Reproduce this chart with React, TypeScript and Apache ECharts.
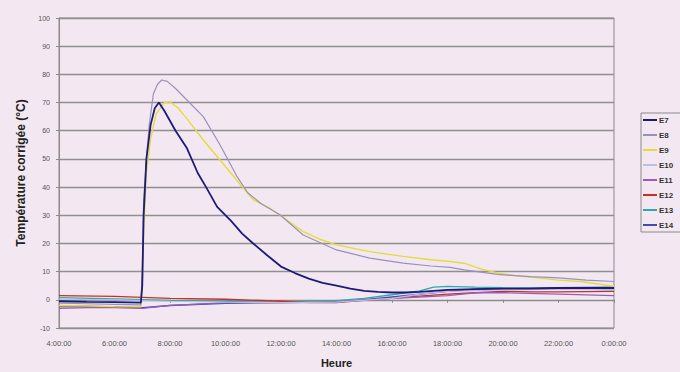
import React, { useEffect, useRef } from "react";
import * as echarts from "echarts";

const xTickLabels = ["4:00:00", "6:00:00", "8:00:00", "10:00:00", "12:00:00", "14:00:00", "16:00:00", "18:00:00", "20:00:00", "22:00:00", "0:00:00"];
const yTicks = [-10, 0, 10, 20, 30, 40, 50, 60, 70, 80, 90, 100];
const seriesNames = ["E7", "E8", "E9", "E10", "E11", "E12", "E13", "E14"];
const seriesColors = ["#1c1c78", "#9a90bc", "#e4dc3c", "#b8c0e8", "#9a5cb8", "#c83020", "#30a8a8", "#4848b0"];

// [hour, °C]
const e7 = [[4, -0.5], [5, -0.7], [6, -0.8], [6.95, -1], [7.0, 5], [7.05, 30], [7.15, 50], [7.3, 62], [7.45, 68], [7.6, 70], [7.8, 67], [8.2, 60], [8.6, 54], [9.0, 45], [9.3, 40], [9.7, 33], [10.2, 28], [10.6, 23.5], [11.0, 20], [11.5, 15.8], [12.0, 11.8], [12.5, 9.5], [13, 7.5], [13.5, 6], [14, 5], [14.5, 4], [15, 3.2], [15.5, 2.8], [16, 2.6], [16.5, 2.6], [17, 2.8], [17.5, 3.2], [18, 3.5], [19, 3.8], [20, 4], [21, 4], [22, 4.2], [23, 4.2], [24, 4.2]];
const e8 = [[4, -1.2], [5, -1.4], [6, -1.6], [6.95, -1.8], [7.0, 10], [7.05, 35], [7.15, 50], [7.25, 62], [7.4, 73], [7.55, 76.5], [7.7, 78], [7.9, 77.5], [8.2, 75], [8.6, 71], [9.2, 65], [9.56, 59], [9.8, 55], [10.4, 44], [10.8, 38], [11.3, 34], [11.96, 30.2], [12.8, 23], [14, 17.7], [15.2, 14.8], [16.4, 13], [17.4, 12], [18.1, 11.5], [18.6, 10.6], [19.8, 9], [21, 8.2], [22, 7.8], [23, 7], [24, 6.5]];
const e9 = [[4, -2], [5, -2.2], [6, -2.4], [6.95, -2.5], [7.0, 5], [7.05, 25], [7.15, 45], [7.3, 57], [7.5, 66], [7.8, 70], [8.0, 70.3], [8.3, 68], [8.6, 64.4], [9.2, 56.7], [9.8, 49.6], [10.4, 42.5], [11.0, 35.5], [11.6, 32.5], [12.2, 28.4], [12.8, 24.2], [13.4, 21.5], [14.0, 19.5], [15.2, 17.1], [16.4, 15.4], [17.4, 14.2], [18.1, 13.6], [18.6, 13], [19.2, 11], [19.8, 9.5], [20.5, 8.5], [21.3, 7.7], [22, 7], [22.8, 6.5], [24, 4.8]];
const e10 = [[4, 0.2], [6, 0], [8, -0.5], [10, -0.8], [12, -1], [14, -0.8], [16, 0.5], [17, 2], [18, 3], [20, 3.5], [22, 3.8], [24, 3.5]];
const e11 = [[4, -3], [5, -2.8], [6, -2.8], [7, -3], [8, -2], [9, -1.5], [10, -1], [12, -1], [14, -0.8], [15, 0], [16, 0.5], [17, 1], [18, 1.5], [19, 2.5], [20, 2.5], [22, 2], [24, 1.5]];
const e12 = [[4, 1.5], [6, 1.2], [8, 0.5], [10, 0.2], [12, -0.5], [13, -1], [14, -1], [15, -0.2], [16, 0.5], [17, 1.3], [18, 2], [19, 2.5], [20, 3], [21, 2.8], [22, 2.8], [24, 3]];
const e13 = [[4, 0.8], [6, 0.3], [8, -0.2], [10, -0.5], [12, -0.8], [14, -0.3], [15, 0.5], [16, 1.8], [17, 3.2], [17.5, 4.5], [18, 4.8], [19, 4.5], [20, 4.3], [22, 4], [24, 3.5]];
const e14 = [[4, -2.2], [5, -2.3], [6, -2.5], [7, -2.8], [8, -2], [10, -1.2], [12, -1], [14, -0.8], [15, 0], [16, 1], [17, 2], [18, 3], [19, 3.8], [20, 4], [22, 4.3], [24, 4.5]];
const allData = [e7, e8, e9, e10, e11, e12, e13, e14];
const lineWidths = [1.8, 1.2, 1.4, 1.2, 1.3, 1.3, 1.3, 1.4];

const BG = "#f3e8f1";
const FONT = "Liberation Sans";

export default function App() {
  const ref = useRef<HTMLDivElement>(null);
  useEffect(() => {
    document.body.style.margin = "0";
    document.body.style.background = BG;
    const chart = echarts.init(ref.current!, null, { renderer: "svg" });
    chart.setOption({
      animation: false,
      backgroundColor: BG,
      textStyle: { fontFamily: FONT },
      grid: {
        left: 59, right: 66, top: 18, bottom: 44,
        outerBoundsMode: "none",
        containLabel: false,
        show: true, borderColor: "#8a8a8a", borderWidth: 1, backgroundColor: BG,
      },
      legend: {
        orient: "vertical",
        left: 641,
        top: 113,
        icon: "rect",
        itemWidth: 14,
        itemHeight: 2,
        itemGap: 7,
        padding: [3, 40, 3, 2],
        borderColor: "#8a8a8a",
        borderWidth: 1,
        textStyle: { fontSize: 8, fontWeight: "bold", color: "#333", padding: [0, 0, 0, -3] },
        data: seriesNames,
      },
      xAxis: {
        type: "value",
        min: 4,
        max: 24,
        interval: 2,
        name: "Heure",
        nameLocation: "middle",
        nameGap: 29,
        nameTextStyle: { fontSize: 11, fontWeight: "bold", color: "#222" },
        axisLine: { show: true, lineStyle: { color: "#8a8a8a" } },
        axisTick: { show: true, length: 3, lineStyle: { color: "#8a8a8a" } },
        splitLine: { show: false },
        axisLabel: {
          fontSize: 7.5,
          color: "#555",
          margin: 11,
          formatter: (v: number) => xTickLabels[Math.round((v - 4) / 2)] ?? "",
        },
      },
      yAxis: {
        type: "value",
        min: yTicks[0],
        max: yTicks[yTicks.length - 1],
        interval: 10,
        name: "Température corrigée (°C)",
        nameLocation: "middle",
        nameGap: 32,
        nameTextStyle: { fontSize: 12, fontWeight: "bold", color: "#222" },
        axisLine: { show: true, lineStyle: { color: "#8a8a8a" } },
        axisTick: { show: true, length: 3, lineStyle: { color: "#8a8a8a" } },
        splitLine: { show: true, lineStyle: { color: "#8f8f8f", width: 1.4 } },
        axisLabel: { fontSize: 7, color: "#555", margin: 9 },
      },
      series: seriesNames.map((name, i) => ({
        name,
        type: "line",
        data: allData[i],
        showSymbol: false,
        smooth: false,
        color: seriesColors[i],
        lineStyle: { width: lineWidths[i], color: seriesColors[i] },
        z: 10 - i,
      })),
    });
    return () => chart.dispose();
  }, []);
  return <div ref={ref} style={{ width: 680, height: 372 }} />;
}
